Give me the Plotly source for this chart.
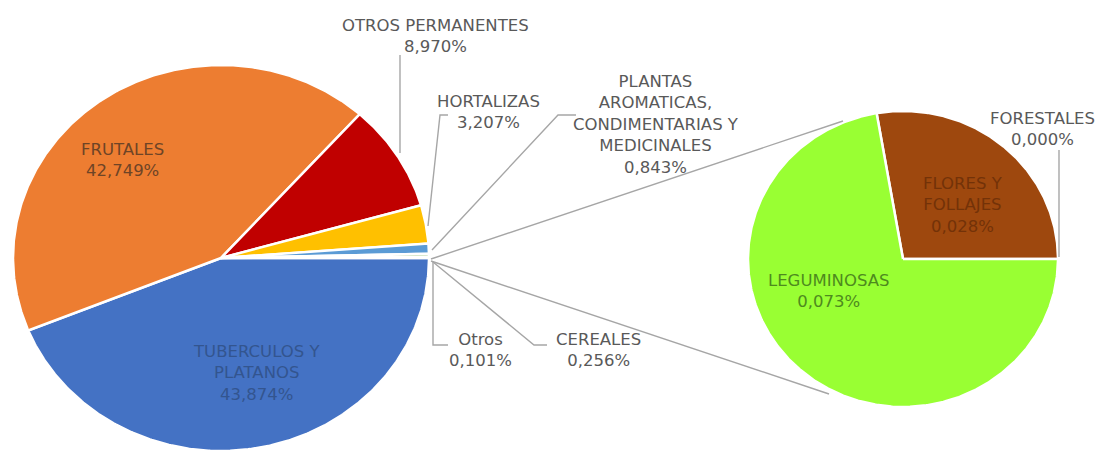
import numpy as np
import plotly.graph_objects as go

# ---------------- data ----------------
main_labels = ["TUBERCULOS Y<br>PLATANOS", "FRUTALES", "OTROS PERMANENTES", "HORTALIZAS",
               "PLANTAS<br>AROMATICAS,<br>CONDIMENTARIAS Y<br>MEDICINALES", "CEREALES", "Otros"]
main_values = [43.874, 42.749, 8.970, 3.207, 0.843, 0.256, 0.101]
main_colors = ["#4472C4", "#ED7D31", "#C00000", "#FFC000", "#5B9BD5", "#70AD47", "#A5A5A5"]

sub_labels = ["FORESTALES", "FLORES Y<br>FOLLAJES", "LEGUMINOSAS"]
sub_values = [0.000, 0.028, 0.073]
sub_colors = ["#7F7F7F", "#9E480E", "#99FF33"]

# ---------------- layout constants ----------------
W, H = 1103, 452
OFF = 8  # page body margin
MAIN = dict(cx=221, cy=258, rx=208, ry=193)
SUB = dict(cx=903, cy=259, rx=155, ry=148)
FONT = "DejaVu Sans"
FS = 16.5
GRAY_TXT = "#595959"
LINE_C = "#A6A6A6"


def pct(v):
    return f"{v:.3f}".replace(".", ",") + "%"


def wedge(c, a0, a1):
    n = max(3, int(abs(a1 - a0) / (2 * np.pi) * 720) + 2)
    t = np.linspace(a0, a1, n)
    xs = np.concatenate([[c["cx"]], c["cx"] + c["rx"] * np.cos(t), [c["cx"]]])
    ys = np.concatenate([[c["cy"]], c["cy"] + c["ry"] * np.sin(t), [c["cy"]]])
    return xs, ys


fig = go.Figure()

# main pie: clockwise from 3 o'clock
tot = sum(main_values)
a = 0.0
for lab, v, col in zip(main_labels, main_values, main_colors):
    da = v / tot * 2 * np.pi
    xs, ys = wedge(MAIN, a, a + da)
    fig.add_trace(go.Scatter(x=xs, y=ys, mode="lines", fill="toself", fillcolor=col,
                             line=dict(color="white", width=2.5), hoverinfo="text",
                             text=lab.replace("<br>", " ") + " " + pct(v), showlegend=False))
    a += da

# secondary pie: counter-clockwise from 3 o'clock
stot = sum(sub_values)
a = 0.0
for lab, v, col in zip(sub_labels, sub_values, sub_colors):
    da = v / stot * 2 * np.pi
    if da > 0:
        xs, ys = wedge(SUB, a, a - da)
        fig.add_trace(go.Scatter(x=xs, y=ys, mode="lines", fill="toself", fillcolor=col,
                                 line=dict(color="white", width=2.5), hoverinfo="text",
                                 text=lab.replace("<br>", " ") + " " + pct(v), showlegend=False))
    a -= da

# leader & connector lines
segs = [
    [(400, 153), (400, 55)],                       # otros permanentes
    [(428, 226), (440, 115), (448, 115)],          # hortalizas
    [(432, 250), (558, 115), (576, 115)],          # plantas
    [(433, 262), (433, 345), (448, 345)],          # otros
    [(433, 262), (534, 345), (547, 345)],          # cereales
    [(1059, 257), (1059, 150)],                    # forestales
    [(431, 259), (843, 121)],                      # connector top
    [(431, 261), (829, 394)],                      # connector bottom
]
lx, ly = [], []
for s in segs:
    for p in s:
        lx.append(p[0]); ly.append(p[1])
    lx.append(None); ly.append(None)
fig.add_trace(go.Scatter(x=lx, y=ly, mode="lines", line=dict(color=LINE_C, width=1.4),
                         hoverinfo="skip", showlegend=False))

# labels
def ann(x, y, txt, color=GRAY_TXT):
    fig.add_annotation(x=x, y=y, text=txt, showarrow=False, xref="x", yref="y",
                       xanchor="center", yanchor="middle", align="center",
                       font=dict(family=FONT, size=FS, color=color))

ann(122, 160, main_labels[1] + "<br>" + pct(main_values[1]), "#6E4426")
ann(256, 373, main_labels[0] + "<br>" + pct(main_values[0]), "#33558F")
ann(435, 36, main_labels[2] + "<br>" + pct(main_values[2]))
ann(488, 112, main_labels[3] + "<br>" + pct(main_values[3]))
ann(656, 124, main_labels[4] + "<br>" + pct(main_values[4]))
ann(598, 350, main_labels[5] + "<br>" + pct(main_values[5]))
ann(480, 350, main_labels[6] + "<br>" + pct(main_values[6]))
ann(1042, 129, sub_labels[0] + "<br>" + pct(sub_values[0]))
ann(963, 205, sub_labels[1] + "<br>" + pct(sub_values[1]), "#733208")
ann(828, 291, sub_labels[2] + "<br>" + pct(sub_values[2]), "#4E8A1E")

fig.update_layout(
    width=W, height=H, margin=dict(l=0, r=0, t=0, b=0),
    paper_bgcolor="white", plot_bgcolor="white",
    xaxis=dict(range=[OFF, W + OFF], visible=False, fixedrange=True),
    yaxis=dict(range=[H + OFF, OFF], visible=False, fixedrange=True),
    showlegend=False,
)
fig.write_html("out.html")
